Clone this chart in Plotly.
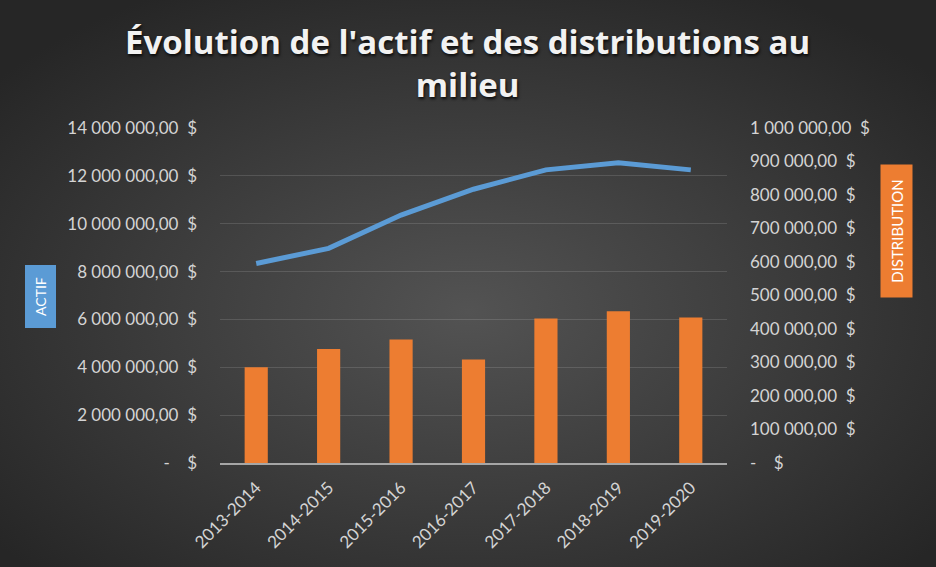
import base64
import plotly.graph_objects as go

# ---------------- data ----------------
categories = ["2013-2014", "2014-2015", "2015-2016", "2016-2017",
              "2017-2018", "2018-2019", "2019-2020"]
actif = [8340000, 8970000, 10360000, 11440000, 12250000, 12550000, 12250000]
distribution = [286000, 340000, 369000, 309000, 431000, 453000, 434000]

left_tick_vals = [0, 2000000, 4000000, 6000000, 8000000, 10000000, 12000000, 14000000]
left_tick_text = ["-    $", "2 000 000,00  $", "4 000 000,00  $", "6 000 000,00  $",
                  "8 000 000,00  $", "10 000 000,00  $", "12 000 000,00  $", "14 000 000,00  $"]
right_tick_vals = [0, 100000, 200000, 300000, 400000, 500000,
                   600000, 700000, 800000, 900000, 1000000]
right_tick_text = ["-    $", "100 000,00  $", "200 000,00  $", "300 000,00  $",
                   "400 000,00  $", "500 000,00  $", "600 000,00  $", "700 000,00  $",
                   "800 000,00  $", "900 000,00  $", "1 000 000,00  $"]

title_text = "Évolution de l'actif et des distributions au<br>milieu"

# ---------------- layout constants ----------------
W, H = 936, 567
ML, MR, MT, MB = 220, 209, 128, 104
PW, PH = W - ML - MR, H - MT - MB

NB = "\u00a0"
left_tick_text = [t.replace(" ", NB) for t in left_tick_text]
right_tick_text = [t.replace(" ", NB) for t in right_tick_text]

svg = (
    f'<svg xmlns="http://www.w3.org/2000/svg" width="{W}" height="{H}">'
    '<defs><radialGradient id="g" cx="50%" cy="55%" r="65%">'
    '<stop offset="0" stop-color="#535353"/>'
    '<stop offset="1" stop-color="#262626"/>'
    '</radialGradient></defs>'
    f'<rect width="{W}" height="{H}" fill="url(#g)"/></svg>'
)
bg_uri = "data:image/svg+xml;base64," + base64.b64encode(svg.encode()).decode()

tick_font = dict(family="Lato, Calibri, sans-serif", size=17, color="#d4d4d4")

fig = go.Figure()
fig.add_trace(go.Bar(
    x=categories, y=distribution, yaxis="y2", name="DISTRIBUTION",
    marker=dict(color="#ed7d31", line=dict(width=0)), width=0.32,
))
fig.add_trace(go.Scatter(
    x=categories, y=actif, yaxis="y", name="ACTIF", mode="lines",
    line=dict(color="#5b9bd5", width=5),
))

def px_x(p):
    return (p - ML) / PW

def px_y(p):
    return 1 - (p - MT) / PH

fig.update_layout(
    width=W, height=H,
    margin=dict(l=ML, r=MR, t=MT, b=MB),
    paper_bgcolor="#3a3a3a",
    plot_bgcolor="rgba(0,0,0,0)",
    showlegend=False,
    bargap=0.68,
    xaxis=dict(
        type="category", showgrid=False, showline=True, linecolor="#a6a6a6",
        linewidth=2, tickangle=-45, tickfont=tick_font, ticks="",
        ticklabelstandoff=6,
    ),
    yaxis=dict(
        range=[0, 14000000], tickvals=left_tick_vals, ticktext=left_tick_text,
        showgrid=True, gridcolor="rgba(255,255,255,0.13)", gridwidth=1,
        zeroline=False, showline=False, tickfont=tick_font, ticks="",
        ticklabelstandoff=22,
    ),
    yaxis2=dict(
        range=[0, 1000000], tickvals=right_tick_vals, ticktext=right_tick_text,
        overlaying="y", side="right", showgrid=False, zeroline=False,
        showline=False, tickfont=tick_font, ticks="", ticklabelstandoff=22,
    ),
    images=[dict(
        source=bg_uri, xref="paper", yref="paper",
        x=-ML / PW, y=1 + MT / PH, sizex=W / PW, sizey=H / PH,
        xanchor="left", yanchor="top", sizing="stretch", layer="below",
    )],
    annotations=[
        dict(text=title_text, xref="paper", yref="paper",
             x=px_x(467), y=px_y(63), xanchor="center", yanchor="middle",
             showarrow=False, align="center",
             font=dict(family="Open Sans, sans-serif", size=33, color="#f2f2f2",
                       weight="bold", shadow="1px 2px 3px rgba(0,0,0,0.8)")),
        dict(text="ACTIF", textangle=-90, xref="paper", yref="paper",
             x=px_x(40), y=px_y(296.5), xanchor="center", yanchor="middle",
             showarrow=False, bgcolor="#5b9bd5", width=60, height=28,
             borderpad=1,
             font=dict(family="Lato, Calibri, sans-serif", size=14, color="#ffffff")),
        dict(text="DISTRIBUTION", textangle=-90, xref="paper", yref="paper",
             x=px_x(896), y=px_y(231), xanchor="center", yanchor="middle",
             showarrow=False, bgcolor="#ed7d31", width=130, height=29,
             borderpad=1,
             font=dict(family="Lato, Calibri, sans-serif", size=15, color="#ffffff")),
    ],
)

fig.write_html(
    "out.html",
    config={"displayModeBar": False},
    post_script="document.body.style.margin='0';document.body.style.overflow='hidden';",
)
